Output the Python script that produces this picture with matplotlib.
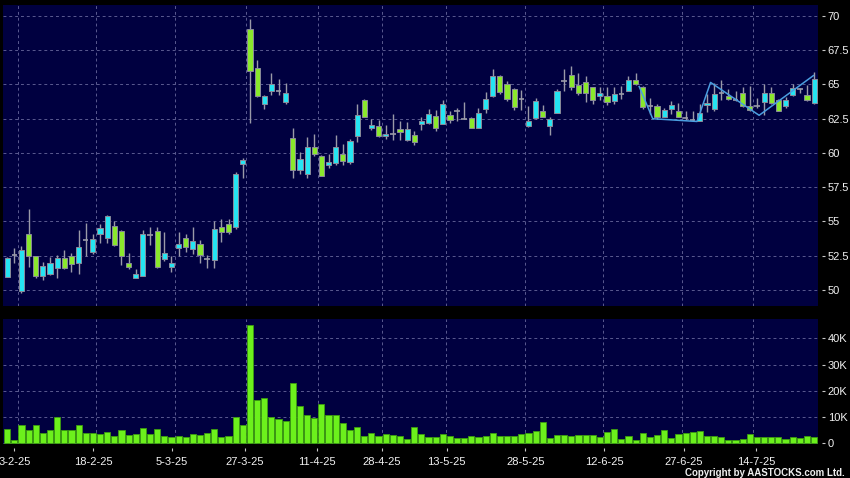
import numpy as np
import matplotlib.pyplot as plt

# daily OHLC (one entry per trading session)
opens = [50.97, 52.55, 49.95, 54.06, 52.48, 51.0, 51.2, 51.6, 52.3, 52.5,
         51.95, 53.65, 52.8, 54.06, 53.8, 54.7, 54.3, 52.0, 50.9, 51.05,
         54.04, 54.3, 52.26, 51.7, 53.1, 53.77, 52.97, 53.33, 52.24, 52.2,
         54.57, 54.8, 54.6, 59.17, 69.03, 66.18, 63.6, 64.5, 64.53, 63.75,
         61.13, 58.79, 58.5, 60.44, 59.79, 59.13, 59.28, 59.96, 59.35, 61.22,
         63.9, 61.86, 61.98, 61.27, 61.42, 61.78, 60.98, 61.3, 62.15, 62.2,
         62.68, 62.15, 62.8, 63.07, 62.5, 62.58, 61.86, 63.24, 64.17, 65.63,
         65.0, 64.7, 63.92, 61.98, 62.56, 63.05, 61.98, 62.95, 65.26, 65.68,
         64.95, 65.19, 64.82, 64.17, 64.17, 63.8, 64.34, 64.53, 65.36, 64.85,
         63.41, 63.44, 62.62, 63.22, 63.06, 62.58, 62.4, 62.31, 63.48, 63.22,
         64.39, 64.17, 63.9, 64.4, 63.44, 63.46, 63.73, 64.41, 63.9, 63.46,
         64.2, 64.64, 64.22, 63.66]
closes = [52.36, 52.55, 52.9, 52.48, 51.0, 51.75, 52.0, 52.3, 51.6, 51.9,
          53.16, 53.65, 53.7, 54.55, 55.4, 53.3, 52.5, 51.7, 51.17, 54.06,
          54.04, 51.7, 52.68, 52.0, 53.33, 53.16, 53.58, 52.55, 52.24, 54.43,
          54.26, 54.2, 58.5, 59.46, 65.99, 64.18, 64.18, 65.04, 64.53, 64.36,
          58.79, 59.59, 60.44, 59.96, 58.33, 59.37, 60.44, 59.42, 60.88, 62.8,
          62.63, 62.07, 61.27, 61.42, 61.42, 61.54, 61.73, 60.8, 62.32, 62.88,
          61.83, 63.56, 62.44, 63.07, 62.5, 61.86, 62.95, 63.97, 65.63, 64.46,
          63.97, 63.37, 63.92, 62.32, 63.78, 62.63, 62.51, 64.51, 65.26, 64.82,
          64.39, 64.39, 63.9, 64.41, 63.73, 64.27, 64.34, 65.36, 65.0, 63.36,
          63.41, 62.6, 63.14, 63.47, 62.65, 62.58, 62.4, 62.95, 63.65, 64.34,
          64.39, 63.97, 63.9, 63.4, 63.11, 63.46, 64.4, 63.66, 63.1, 63.9,
          64.72, 64.64, 63.85, 65.37]
highs = [52.4, 53.1, 53.2, 55.9, 52.5, 52.07, 52.4, 52.55, 52.9, 52.7,
         54.4, 54.87, 54.1, 54.8, 55.47, 55.06, 54.4, 52.7, 51.5, 54.4,
         54.6, 54.6, 54.2, 52.5, 54.2, 54.1, 54.6, 53.65, 52.55, 55.0,
         55.2, 55.2, 58.6, 59.6, 69.76, 66.8, 64.2, 65.86, 65.4, 65.1,
         61.86, 60.1, 61.2, 61.4, 59.85, 59.96, 61.3, 60.64, 61.05, 63.6,
         63.95, 62.5, 62.44, 62.03, 62.83, 62.34, 62.27, 61.59, 62.63, 63.24,
         63.17, 63.85, 63.1, 63.3, 63.7, 62.6, 63.3, 64.46, 66.1, 65.7,
         65.24, 64.75, 64.58, 63.41, 64.02, 63.49, 62.63, 64.7, 66.1, 66.33,
         65.85, 65.6, 64.85, 64.82, 64.78, 64.78, 64.87, 65.6, 65.86, 64.9,
         64.04, 63.6, 63.3, 63.8, 63.65, 63.06, 63.1, 63.55, 64.34, 65.12,
         65.36, 64.7, 64.5, 64.78, 64.9, 64.04, 65.0, 64.82, 63.95, 64.1,
         65.02, 64.75, 64.95, 65.93]
lows = [50.95, 52.0, 49.8, 51.7, 50.85, 50.7, 51.1, 50.9, 51.5, 51.3,
        51.2, 52.5, 52.6, 53.45, 53.4, 53.2, 51.8, 51.5, 50.85, 51.0,
        53.3, 51.6, 52.1, 51.3, 52.5, 52.8, 52.6, 52.0, 51.6, 51.6,
        53.5, 54.1, 54.45, 58.15, 62.17, 64.1, 63.2, 64.23, 64.2, 63.58,
        58.18, 58.5, 58.18, 59.76, 58.3, 58.94, 59.1, 59.15, 59.23, 60.8,
        62.6, 61.66, 61.2, 61.05, 60.93, 60.98, 60.9, 60.61, 61.66, 62.1,
        61.61, 62.1, 62.2, 62.3, 62.5, 61.8, 61.8, 62.93, 64.1, 64.3,
        63.78, 63.17, 63.17, 61.9, 62.5, 62.6, 61.34, 62.9, 64.5, 64.6,
        64.2, 63.73, 63.6, 63.85, 63.5, 63.56, 63.97, 64.5, 64.95, 63.2,
        62.88, 62.5, 62.6, 62.88, 62.6, 62.4, 62.35, 62.3, 63.0, 63.1,
        63.9, 63.9, 63.8, 63.35, 63.05, 63.3, 62.76, 63.6, 63.05, 63.3,
        64.15, 64.4, 63.8, 63.6]
volumes = [5500, 1500, 6900, 5100, 7100, 3800, 5300, 10200, 5100, 5100,
           6900, 3800, 3900, 3700, 4300, 2800, 5100, 3200, 3600, 5700,
           3600, 5600, 3000, 2500, 2700, 2400, 3700, 3200, 3800, 5500,
           2500, 2900, 9900, 6900, 45000, 16600, 17500, 10200, 9300, 8400,
           22900, 14300, 11000, 9700, 14900, 10700, 10700, 7900, 5000, 6200,
           3000, 4100, 2700, 3600, 3400, 2700, 1800, 6300, 3500, 2600,
           2600, 3700, 2700, 2100, 2100, 2800, 2300, 2800, 4100, 2700,
           2700, 2800, 3500, 3800, 4600, 8300, 1900, 3100, 3100, 2800,
           3200, 3200, 3100, 2300, 4200, 5500, 1800, 2800, 1300, 3800,
           2300, 3300, 5100, 2100, 3600, 4100, 4400, 4600, 2800, 2700,
           2300, 1500, 1500, 1800, 3500, 2400, 2400, 2600, 2300, 1800,
           2300, 2100, 2900, 2300]

date_labels = ['3-2-25', '18-2-25', '5-3-25', '27-3-25', '11-4-25', '28-4-25',
               '13-5-25', '28-5-25', '12-6-25', '27-6-25', '14-7-25']
date_pos = [1.0, 12.05, 23.1, 33.25, 43.35, 52.45, 61.55, 72.55, 83.6, 94.8, 104.85]
grid_pos = [1.5, 12.5, 23.5, 33.5, 43.5, 52.5, 61.5, 72.5, 83.5, 94.5, 104.5]
price_ticks = [50, 52.5, 55, 57.5, 60, 62.5, 65, 67.5, 70]
vol_ticks = [0, 10000, 20000, 30000, 40000]
vol_labels = ['0', '10K', '20K', '30K', '40K']

# overlay zigzag line (drawn pattern on the last weeks)
zz_x = [88.5, 90.4, 96.6, 98.5, 105.3, 112.9]
zz_y = [64.85, 62.5, 62.3, 65.15, 62.75, 65.65]

BG = '#000040'
UP = '#25e4f2'
DOWN = '#8ae82c'
WICK = '#9a9aa8'
GRID = '#5a5a90'

plt.rcParams['font.family'] = ['Liberation Sans', 'DejaVu Sans']

o = np.array(opens)
c = np.array(closes)
x = np.arange(len(o))
is_doji = np.isclose(o, c)
is_up = (c > o) & ~is_doji
is_dn = (c < o) & ~is_doji

fig = plt.figure(figsize=(8.5, 4.78), dpi=100, facecolor='black')
ax = fig.add_axes([0.0041, 0.3598, 0.9583, 0.6297], facecolor=BG)
axv = fig.add_axes([0.0041, 0.0701, 0.9583, 0.2625], facecolor=BG)

# price panel
ax.vlines(x, lows, highs, color=WICK, lw=1, zorder=2)
ax.bar(x[is_up], (c - o)[is_up], bottom=o[is_up], width=0.72, color=UP,
       edgecolor='#8a8a9a', linewidth=0.7, zorder=3)
ax.bar(x[is_dn], (c - o)[is_dn], bottom=o[is_dn], width=0.72, color=DOWN,
       edgecolor='#8a8a9a', linewidth=0.7, zorder=3)
ax.hlines(o[is_doji], x[is_doji] - 0.38, x[is_doji] + 0.38, color=WICK, lw=1.2, zorder=3)
ax.plot(zz_x, zz_y, color='#4a9ee0', lw=1.1, zorder=4)

ax.set_xlim(-0.52, 113.55)
ax.set_ylim(48.83, 70.8)
ax.set_yticks(price_ticks)
ax.set_yticklabels(['%g' % v for v in price_ticks])
ax.set_xticks([])

# volume panel
axv.bar(x, volumes, width=0.86, color='#6cf01c', edgecolor='#3c9c10', linewidth=0.6, zorder=3)
axv.set_xlim(-0.52, 113.55)
axv.set_ylim(-400, 47400)
axv.set_yticks(vol_ticks)
axv.set_yticklabels(vol_labels)
axv.set_xticks(date_pos)
axv.set_xticklabels(date_labels)

for a in (ax, axv):
    a.yaxis.tick_right()
    for s in a.spines.values():
        s.set_color('none')
    a.spines['right'].set_position(('outward', 2.5))
    a.spines['bottom'].set_position(('outward', 2.5))
    a.tick_params(axis='y', direction='out', length=2.5, width=0.8, color='#c8c8c8',
                  labelcolor='#f2f2f2', labelsize=8, pad=2)
    a.tick_params(axis='x', direction='out', length=2.5, width=0.8, color='#c8c8c8',
                  labelcolor='#f2f2f2', labelsize=8, pad=4)
    a.grid(axis='y', color=GRID, lw=0.7, linestyle=(0, (3, 3)), zorder=1)
    for g in grid_pos:
        a.axvline(g, color=GRID, lw=0.7, linestyle=(0, (3, 3)), zorder=1)

fig.text(0.994, 0.0115, 'Copyright by AASTOCKS.com Ltd.', ha='right', va='center',
         color='#eeeeee', fontsize=7, fontweight='bold')

fig.savefig('out.png', dpi=100, facecolor='black')
